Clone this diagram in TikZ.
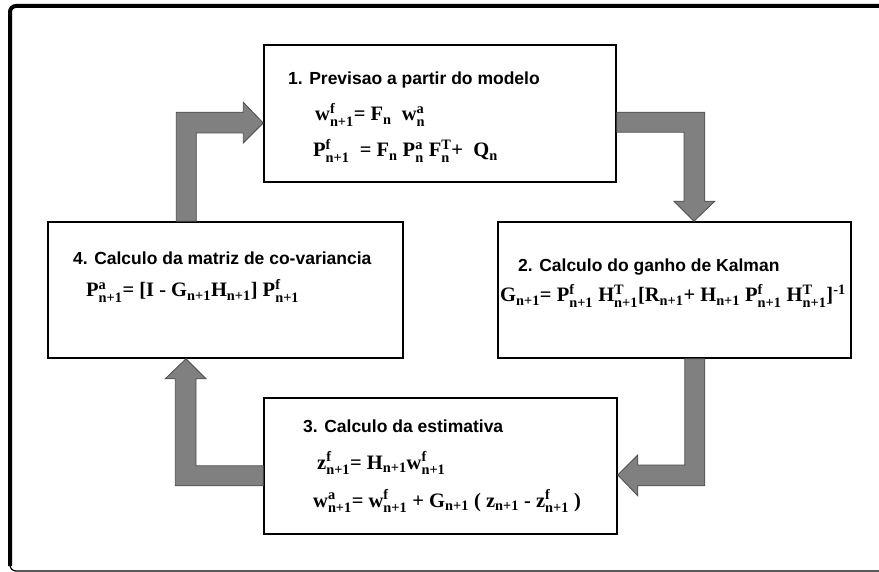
\documentclass[tikz,border=0pt]{standalone}
\usepackage{amsmath}
\usepackage{fontspec}
\setmainfont{Liberation Serif}
\setsansfont{Liberation Sans}

% stacked super/subscript after a letter, and a plain subscript
\newcommand{\sps}[2]{\ensuremath{^{\text{#1}}_{\text{#2}}}}
\newcommand{\sbs}[1]{\ensuremath{_{\text{#1}}}}

\tikzset{
  box/.style={draw, line width=1.5pt, fill=white, inner sep=0pt},
  head/.style={anchor=base west, inner sep=0pt, font=\sffamily\bfseries\fontsize{17.5}{21}\selectfont},
  eqn/.style={anchor=base west, inner sep=0pt, font=\bfseries\fontsize{20.5}{24}\selectfont},
  bigarrow/.style={fill=gray, draw=black!70, line width=0.8pt, line join=miter}
}

\begin{document}
\begin{tikzpicture}[x=1pt,y=-1pt]
    \useasboundingbox (0,0) rectangle (879,572);
    % frame
    \draw[line width=4pt, rounded corners=6pt] (10,566) -- (10,6) -- (879,6);
    \draw[line width=1.2pt, rounded corners=6pt] (10,556) -- (10,571) -- (879,571);
    % boxes
    \node[box, minimum width=352pt, minimum height=137pt] at (440,113.5) (b1) {};
    \node[box, minimum width=353pt, minimum height=136pt] at (674.5,290) (b2) {};
    \node[box, minimum width=353pt, minimum height=136pt] at (440.5,466) (b3) {};
    \node[box, minimum width=355pt, minimum height=136pt] at (225.5,290) (b4) {};
    % tips of the arrows
    \coordinate (tip1) at (b1.west |- 0,123);
    \coordinate (tip2) at (b2.north -| 694,0);
    \coordinate (tip3) at (b3.east |- 0,475);
    \coordinate (tip4) at (b4.south -| 186,0);
    % arrows
    \filldraw[bigarrow] (tip1) -- ++(-20,20) -- ++(0,-10) -- ++(-47,0) coordinate (a1) -- (a1 |- b4.north) -- ++(-20,0) -- ++(0,-109) -- ++(67,0) -- ++(0,-10) -- cycle;
    \filldraw[bigarrow] (tip2) -- ++(-20,-20) -- ++(10,0) -- ++(0,-69) coordinate (a2) -- (a2 -| b1.east) -- ++(0,-20) -- ++(88,0) -- ++(0,89) -- ++(10,0) -- cycle;
    \filldraw[bigarrow] (tip3) -- ++(20,-20) -- ++(0,10) -- ++(47,0) coordinate (a3) -- (a3 |- b2.south) -- ++(20,0) -- ++(0,127) -- ++(-67,0) -- ++(0,10) -- cycle;
    \filldraw[bigarrow] (tip4) -- ++(20,20) -- ++(-10,0) -- ++(0,87) coordinate (a4) -- (a4 -| b3.west) -- ++(0,20) -- ++(-88,0) -- ++(0,-107) -- ++(-10,0) -- cycle;
    % texts
    \node[head] at (288,85) (t1) {1. Previsao a partir do modelo};
    \node[eqn] at (315,121) (e1a) {w\sps{f}{n+1}= F\sbs{n}\ \ w\sps{a}{n}};
    \node[eqn] at (313,157) (e1b) {P\sps{f}{n+1}\ \ = F\sbs{n} P\sps{a}{n} F\sps{T}{n}+ \ Q\sbs{n}};
    \node[head] at (518,272) (t2) {2. Calculo do ganho de Kalman};
    \node[eqn] at (500,302) (e2) {G\sbs{n+1}= P\sps{f}{n+1} H\sps{T}{n+1}[R\sbs{n+1}+ H\sbs{n+1} P\sps{f}{n+1} H\sps{T}{n+1}]\ensuremath{^{\text{-1}}}};
    \node[head] at (303,432) (t3) {3. Calculo da estimativa};
    \node[eqn] at (317,469) (e3a) {z\sps{f}{n+1}= H\sbs{n+1}w\sps{f}{n+1}};
    \node[eqn] at (313,507) (e3b) {w\sps{a}{n+1}= w\sps{f}{n+1} + G\sbs{n+1} ( z\sbs{n+1} - z\sps{f}{n+1} )};
    \node[head] at (73,265) (t4) {4. Calculo da matriz de co-variancia};
    \node[eqn] at (86,297) (e4) {P\sps{a}{n+1}= [I - G\sbs{n+1}H\sbs{n+1}] P\sps{f}{n+1}};
\end{tikzpicture}
\end{document}
